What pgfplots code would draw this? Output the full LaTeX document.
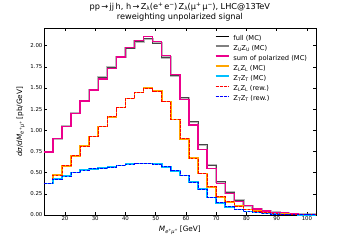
\documentclass[border=0pt]{standalone}
\usepackage{graphicx}
\usepackage{pgfplots}
\usepackage{pgfplotstable}
\pgfplotsset{compat=1.18}
\usepackage{fontspec}
\setmainfont{DejaVu Sans}
\newcommand\lo[1]{\raisebox{-0.35ex}{\scalebox{0.7}{#1}}}
\newcommand\hi[1]{\raisebox{0.65ex}{\scalebox{0.7}{#1}}}
\definecolor{mplorange}{HTML}{FFA500}
\definecolor{skyb}{HTML}{00BFFF}
\pgfplotstableread{
x full sum LL TT
13 0.745 0.745 0.374 0.374
16 0.900 0.900 0.470 0.425
19 1.050 1.045 0.580 0.460
22 1.200 1.200 0.700 0.504
25 1.350 1.345 0.812 0.530
28 1.480 1.477 0.925 0.545
31 1.625 1.607 1.043 0.555
34 1.745 1.730 1.160 0.567
37 1.870 1.865 1.268 0.585
40 1.970 1.975 1.378 0.600
43 2.050 2.060 1.445 0.610
46 2.080 2.107 1.497 0.610
49 2.030 2.045 1.465 0.600
52 1.860 1.880 1.340 0.570
55 1.645 1.660 1.130 0.522
58 1.386 1.366 0.900 0.468
61 1.100 1.063 0.670 0.390
64 0.827 0.776 0.490 0.307
67 0.590 0.551 0.334 0.209
70 0.390 0.372 0.216 0.145
73 0.265 0.250 0.157 0.098
76 0.175 0.160 0.106 0.067
79 0.110 0.112 0.067 0.040
82 0.070 0.072 0.045 0.028
85 0.046 0.048 0.030 0.018
88 0.031 0.033 0.020 0.012
91 0.021 0.022 0.013 0.007
94 0.014 0.015 0.008 0.005
97 0.009 0.010 0.005 0.003
100 0.005 0.006 0.003 0.002
103 0.005 0.006 0.003 0.002
}\data
\begin{document}
\begin{tikzpicture}
\path[use as bounding box] (0,0) rectangle (352pt,242pt);
\begin{axis}[
  at={(43.8pt,27pt)}, anchor=south west,
  width=272.2pt, height=186.3pt, scale only axis,
  xmin=13, xmax=103, ymin=0, ymax=2.2,
  xtick={20,30,40,50,60,70,80,90,100},
  ytick={0,0.25,0.5,0.75,1,1.25,1.5,1.75,2},
  yticklabel style={/pgf/number format/fixed,/pgf/number format/precision=2,/pgf/number format/fixed zerofill},
  /pgf/number format/assume math mode=true,
  tick label style={font=\fontsize{5.4}{6.5}\selectfont, inner sep=1.2pt},
  tick align=inside, major tick length=2.7pt,
  every tick/.style={black, line width=0.5pt},
  axis line style={line width=0.6pt},
  xlabel={\textit{M}\lo{\textit{e}\hi{+}\textit{μ}\hi{+}} [GeV]},
  ylabel={\textit{dσ}/\textit{dM}\lo{\textit{e}\hi{+}\textit{μ}\hi{+}} [pb/GeV]},
  label style={font=\fontsize{7.3}{9}\selectfont},
  xlabel style={at={(axis description cs:0.5,-0.082)}, anchor=center},
  ylabel style={at={(axis description cs:-0.085,0.5)}, anchor=center, rotate=0},
  title={pp\,→\,jj\,h, h\,→\,Z\lo{λ}(e\hi{+}\,e\hi{−})\,Z\lo{λ}(μ\hi{+}\,μ\hi{−}), LHC@13TeV\\reweighting unpolarized signal},
  title style={at={(axis description cs:0.5,1)}, anchor=south, yshift=1.5pt, align=center, inner sep=0pt, font=\fontsize{8.2}{10}\selectfont},
  legend style={at={(rel axis cs:0.629,1)}, anchor=north west, yshift=-6.3pt, draw=none, fill=none, inner sep=0pt, outer sep=0pt, row sep=3.6pt, column sep=4pt, font=\fontsize{6.7}{8}\selectfont, nodes={inner sep=0pt, text height=5pt, text depth=1.4pt}},
  legend cell align=left,
]
\addplot[const plot mark left, black, line width=1.0pt, forget plot] table[x=x,y=full]{\data};
\addplot[const plot mark left, gray, opacity=0.55, line width=2.2pt, forget plot] table[x=x,y=full]{\data};
\addplot[const plot mark left, magenta, line width=1.3pt, forget plot] table[x=x,y=sum]{\data};
\addplot[const plot mark left, mplorange, line width=1.6pt, forget plot] table[x=x,y=LL]{\data};
\addplot[const plot mark left, skyb, line width=1.6pt, forget plot] table[x=x,y=TT]{\data};
\addplot[const plot mark left, red, line width=0.8pt, dash pattern=on 2.8pt off 1.2pt, forget plot] table[x=x,y=LL]{\data};
\addplot[const plot mark left, blue, line width=0.8pt, dash pattern=on 2.8pt off 1.2pt, forget plot] table[x=x,y=TT]{\data};
\addlegendimage{legend image code/.code={\draw[black, line width=1.0pt] (0pt,2.2pt) -- (13pt,2.2pt);}}
\addlegendentry{full (MC)}
\addlegendimage{legend image code/.code={\draw[gray, line width=1.4pt] (0pt,2.2pt) -- (13pt,2.2pt);}}
\addlegendentry{Z\lo{U}Z\lo{U} (MC)}
\addlegendimage{legend image code/.code={\draw[magenta, line width=1.3pt] (0pt,2.2pt) -- (13pt,2.2pt);}}
\addlegendentry{sum of polarized (MC)}
\addlegendimage{legend image code/.code={\draw[mplorange, line width=1.3pt] (0pt,2.2pt) -- (13pt,2.2pt);}}
\addlegendentry{Z\lo{L}Z\lo{L} (MC)}
\addlegendimage{legend image code/.code={\draw[skyb, line width=1.3pt] (0pt,2.2pt) -- (13pt,2.2pt);}}
\addlegendentry{Z\lo{T}Z\lo{T} (MC)}
\addlegendimage{legend image code/.code={\draw[red, line width=0.9pt, dash pattern=on 2.8pt off 1.2pt] (0pt,2.2pt) -- (13pt,2.2pt);}}
\addlegendentry{Z\lo{L}Z\lo{L} (rew.)}
\addlegendimage{legend image code/.code={\draw[blue, line width=0.9pt, dash pattern=on 2.8pt off 1.2pt] (0pt,2.2pt) -- (13pt,2.2pt);}}
\addlegendentry{Z\lo{T}Z\lo{T} (rew.)}
\node[anchor=south west, inner sep=0pt, font=\fontsize{5.4}{6.5}\selectfont] at (rel axis cs:0,1) [yshift=2.4pt] {1e−7};
\end{axis}
\end{tikzpicture}
\end{document}
